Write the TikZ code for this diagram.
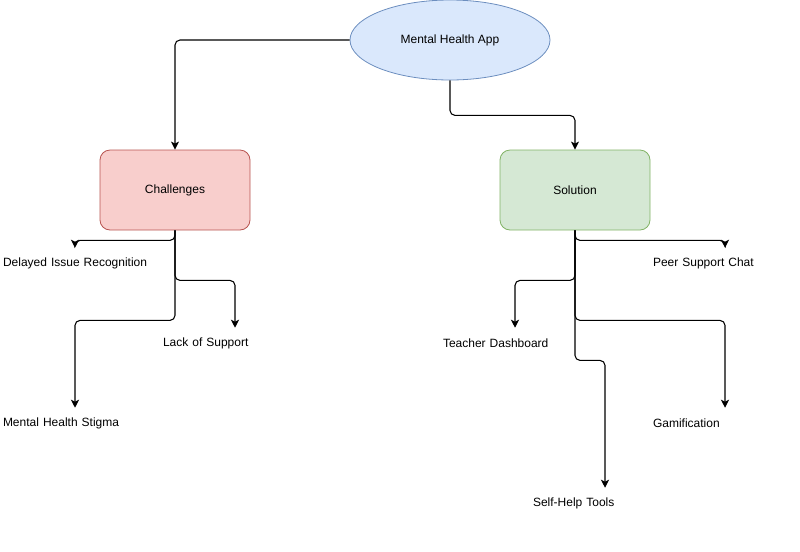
\documentclass[tikz,border=0pt]{standalone}
\usepackage{fontspec}
\setmainfont{Liberation Sans}
\usepackage{xcolor}
\usepackage{tikz}
\usetikzlibrary{arrows.meta,shapes.geometric}

\definecolor{appfill}{HTML}{DAE8FC}
\definecolor{appline}{HTML}{6C8EBF}
\definecolor{chalfill}{HTML}{F8CECC}
\definecolor{challine}{HTML}{B85450}
\definecolor{solfill}{HTML}{D5E8D4}
\definecolor{solline}{HTML}{82B366}

\begin{document}
\begin{tikzpicture}[x=0.75pt,y=-0.75pt,
	every node/.style={font=\fontsize{9pt}{11pt}\selectfont},
	box/.style={rectangle, rounded corners=7.5pt, minimum width=112.5pt, minimum height=60pt, line width=0.6pt},
	leaf/.style={rectangle, minimum width=112.5pt, minimum height=22.5pt, text width=108pt, inner sep=2.25pt, align=left},
	arr/.style={line width=0.8pt, rounded corners=3.75pt, -{Stealth[length=6pt,width=6pt,inset=1.5pt]}}]

	\useasboundingbox (0,0) rectangle (800,551);

	\node[ellipse, draw=appline, fill=appfill, line width=0.6pt, minimum width=150pt, minimum height=60pt] (app) at (450,40) {Mental Health App};
	\node[box, draw=challine, fill=chalfill] (chal) at (175,190) {Challenges};
	\node[box, draw=solline, fill=solfill] (sol) at (575,190) {Solution};

	% challenges
	\node[leaf] (delayed) at (75,263) {\mbox{Delayed Issue Recognition}};
	\node[leaf] (lack) at (235,343) {Lack of Support};
	\node[leaf] (stigma) at (75,423) {Mental Health Stigma};

	% solution
	\node[leaf] (peer) at (725,263) {Peer Support Chat};
	\node[leaf] (teacher) at (515,343) {Teacher Dashboard};
	\node[leaf] (gamif) at (725,423) {Gamification};
	\node[leaf] (selfhelp) at (605,503) {Self-Help Tools};

	\draw[arr] (app.west) -| (chal.north);
	\draw[arr] (app.south) -- ++(0,35) -| (sol.north);

	\draw[arr] (chal.south) -- ++(0,10) -| (delayed.north);
	\draw[arr] (chal.south) -- ++(0,50) -| (lack.north);
	\draw[arr] (chal.south) -- ++(0,90) -| (stigma.north);

	\draw[arr] (sol.south) -- ++(0,10) -| (peer.north);
	\draw[arr] (sol.south) -- ++(0,50) -| (teacher.north);
	\draw[arr] (sol.south) -- ++(0,90) -| (gamif.north);
	\draw[arr] (sol.south) -- ++(0,130) -| (selfhelp.north);
\end{tikzpicture}
\end{document}
